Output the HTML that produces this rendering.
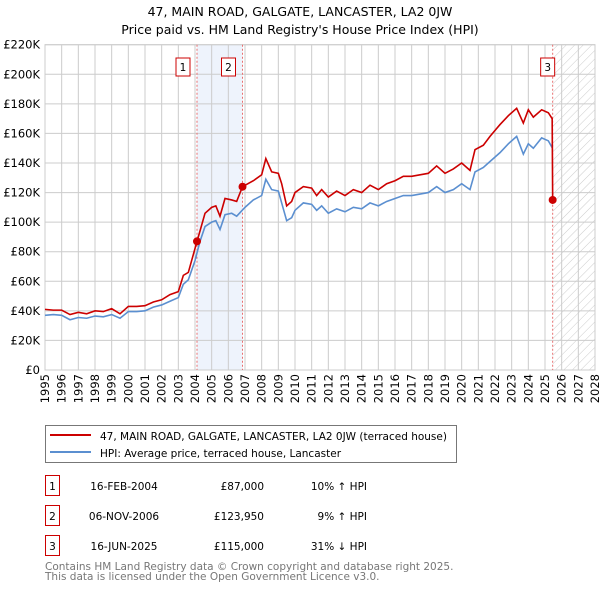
<!DOCTYPE html>
<html><head><meta charset="utf-8"><style>
body{margin:0;background:#fff;width:600px;height:590px;overflow:hidden;font-family:"DejaVu Sans","Liberation Sans",sans-serif}
svg{display:block}
</style></head><body>
<svg id="chart" width="600" height="590" viewBox="0 0 600 590" font-family="DejaVu Sans, Liberation Sans, sans-serif">
<defs><pattern id="hatch" patternUnits="userSpaceOnUse" width="6" height="6" patternTransform="rotate(45)"><line x1="0" y1="0" x2="0" y2="6" stroke="#ccc" stroke-width="1"/></pattern></defs>
<text x="300" y="16" text-anchor="middle" font-size="12.5">47, MAIN ROAD, GALGATE, LANCASTER, LA2 0JW</text>
<text x="300" y="34" text-anchor="middle" font-size="12.5">Price paid vs. HM Land Registry's House Price Index (HPI)</text>
<g id="plot"></g>
<g>
<rect x="45.5" y="425.5" width="411" height="37" fill="#fff" stroke="#777"/>
<line x1="50" y1="435" x2="91" y2="435" stroke="#cc0000" stroke-width="2"/>
<text x="100" y="440" font-size="10.5">47, MAIN ROAD, GALGATE, LANCASTER, LA2 0JW (terraced house)</text>
<line x1="50" y1="452" x2="91" y2="452" stroke="#5b8fd0" stroke-width="2"/>
<text x="100" y="457" font-size="10.5">HPI: Average price, terraced house, Lancaster</text>
</g>
<g font-size="10.5">
<rect x="45.5" y="475.5" width="14" height="20" fill="#fff" stroke="#cc0000"/><text x="52.5" y="490" text-anchor="middle">1</text>
<text x="124" y="490" text-anchor="middle">16-FEB-2004</text><text x="264" y="490" text-anchor="end">£87,000</text><text x="367" y="490" text-anchor="end">10% ↑ HPI</text>
<rect x="45.5" y="505.5" width="14" height="20" fill="#fff" stroke="#cc0000"/><text x="52.5" y="520" text-anchor="middle">2</text>
<text x="124" y="520" text-anchor="middle">06-NOV-2006</text><text x="264" y="520" text-anchor="end">£123,950</text><text x="367" y="520" text-anchor="end">9% ↑ HPI</text>
<rect x="45.5" y="535.5" width="14" height="20" fill="#fff" stroke="#cc0000"/><text x="52.5" y="550" text-anchor="middle">3</text>
<text x="124" y="550" text-anchor="middle">16-JUN-2025</text><text x="264" y="550" text-anchor="end">£115,000</text><text x="367" y="550" text-anchor="end">31% ↓ HPI</text>
</g>
<text x="45" y="570" font-size="10.5" fill="#777">Contains HM Land Registry data © Crown copyright and database right 2025.</text>
<text x="45" y="580" font-size="10.5" fill="#777">This data is licensed under the Open Government Licence v3.0.</text>
</svg>
<script>
const hpiYears=[1995,1995.5,1996,1996.5,1997,1997.5,1998,1998.5,1999,1999.5,2000,2000.5,2001,2001.5,2002,2002.5,2003,2003.3,2003.6,2004,2004.3,2004.6,2005,2005.25,2005.5,2005.8,2006.2,2006.5,2007,2007.5,2008,2008.25,2008.6,2009,2009.2,2009.5,2009.8,2010,2010.5,2011,2011.3,2011.6,2012,2012.5,2013,2013.5,2014,2014.5,2015,2015.5,2016,2016.5,2017,2017.5,2018,2018.5,2019,2019.5,2020,2020.5,2020.8,2021.3,2021.7,2022.3,2022.8,2023.3,2023.7,2024,2024.3,2024.8,2025.2,2025.45];
const hpiValues=[37,37.5,37,34,35.5,35,36.5,36,37.5,35,39.5,39.5,40,42.5,44,46.5,49,58,61,74,87,97,100,101,95,105,106,104,110,115,118,129,122,121,113,101,103,108,113,112,108,111,106,109,107,110,109,113,111,114,116,118,118,119,120,124,120,122,126,122,134,137,141,147,153,158,146,153,150,157,155,150];
const redYears=[1995,1995.5,1996,1996.5,1997,1997.5,1998,1998.5,1999,1999.5,2000,2000.5,2001,2001.5,2002,2002.5,2003,2003.3,2003.6,2004.12,2004.3,2004.6,2005,2005.25,2005.5,2005.8,2006.2,2006.5,2006.85,2007.5,2008,2008.25,2008.6,2009,2009.2,2009.5,2009.8,2010,2010.5,2011,2011.3,2011.6,2012,2012.5,2013,2013.5,2014,2014.5,2015,2015.5,2016,2016.5,2017,2017.5,2018,2018.5,2019,2019.5,2020,2020.5,2020.8,2021.3,2021.7,2022.3,2022.8,2023.3,2023.7,2024,2024.3,2024.8,2025.2,2025.43,2025.46];
const redValues=[41,40.5,40.5,37.5,39,38,40,39.5,41.5,38,43,43,43.5,46,47.5,51,53,64,66,87,94,106,110,111,104,116,115,114,124,128,132,143,134,133,126,111,114,120,124,123,118,122,117,121,118,122,120,125,122,126,128,131,131,132,133,138,133,136,140,135,149,152,158,166,172,177,167,176,171,176,174,170,115];
const saleYears=[2004.12,2006.85,2025.46];
const saleValues=[87,123.95,115];
const yTicks=[0,20,40,60,80,100,120,140,160,180,200,220];
const yTickLabels=["£0","£20K","£40K","£60K","£80K","£100K","£120K","£140K","£160K","£180K","£200K","£220K"];
const xTicks=[1995,1996,1997,1998,1999,2000,2001,2002,2003,2004,2005,2006,2007,2008,2009,2010,2011,2012,2013,2014,2015,2016,2017,2018,2019,2020,2021,2022,2023,2024,2025,2026,2027,2028];

const NS="http://www.w3.org/2000/svg";
const X0=45,X1=595,Y0=370,Y1=44.7,xmin=1995,xmax=2028,ymax=220;
const sx=v=>X0+(v-xmin)/(xmax-xmin)*(X1-X0);
const sy=v=>Y0-v/ymax*(Y0-Y1);
const plot=document.getElementById('plot');
function mk(tag,attrs,parent){const e=document.createElementNS(NS,tag);for(const k in attrs)e.setAttribute(k,attrs[k]);(parent||plot).appendChild(e);return e;}

let e=mk('rect',{x:sx(saleYears[0]),y:Y1,width:sx(saleYears[1])-sx(saleYears[0]),height:Y0-Y1,fill:'#eef3fc'});


e=mk('rect',{x:sx(saleYears[2]),y:Y1,width:X1-sx(saleYears[2]),height:Y0-Y1,fill:'url(#hatch)'});



yTicks.forEach((t,i)=>{
  const g=mk('line',{x1:X0,x2:X1,y1:sy(t),y2:sy(t),stroke:'#ccc','stroke-width':1});
  
  
  const l=mk('text',{x:X0-5,y:sy(t)+4,'text-anchor':'end','font-size':'11.5'});
  l.textContent=yTickLabels[i];
  
  
});
xTicks.forEach(t=>{
  const g=mk('line',{x1:sx(t),x2:sx(t),y1:Y1,y2:Y0,stroke:'#ccc','stroke-width':1});
  
  
  const l=mk('text',{x:0,y:0,'text-anchor':'end','font-size':'11.5',transform:`translate(${sx(t)+4},${Y0+4}) rotate(-90)`});
  l.textContent=t;
  
  
});
e=mk('rect',{x:X0,y:Y1,width:X1-X0,height:Y0-Y1,fill:'none',stroke:'#ccc'});



saleYears.forEach((s,i)=>{
  const l=mk('line',{x1:sx(s),x2:sx(s),y1:Y1,y2:Y0,stroke:'#e87070','stroke-dasharray':'2,2','stroke-width':1});
  
  
});

e=mk('polyline',{points:hpiYears.map((y,i)=>sx(y)+','+sy(hpiValues[i])).join(' '),fill:'none',stroke:'#5b8fd0','stroke-width':1.6});


e=mk('polyline',{points:redYears.map((y,i)=>sx(y)+','+sy(redValues[i])).join(' '),fill:'none',stroke:'#cc0000','stroke-width':1.6});



saleYears.forEach((s,i)=>{
  const c=mk('circle',{cx:sx(s),cy:sy(saleValues[i]),r:4,fill:'#cc0000'});
  
  
  const bx=sx(s)-(i==2?5:14);
  const r=mk('rect',{x:bx-7,y:58,width:14,height:18,fill:'#fff',stroke:'#cc0000'});
  
  
  const t=mk('text',{x:bx,y:71,'text-anchor':'middle','font-size':'10.5'});
  t.textContent=String(i+1);
  
  
});
</script>
</body></html>
